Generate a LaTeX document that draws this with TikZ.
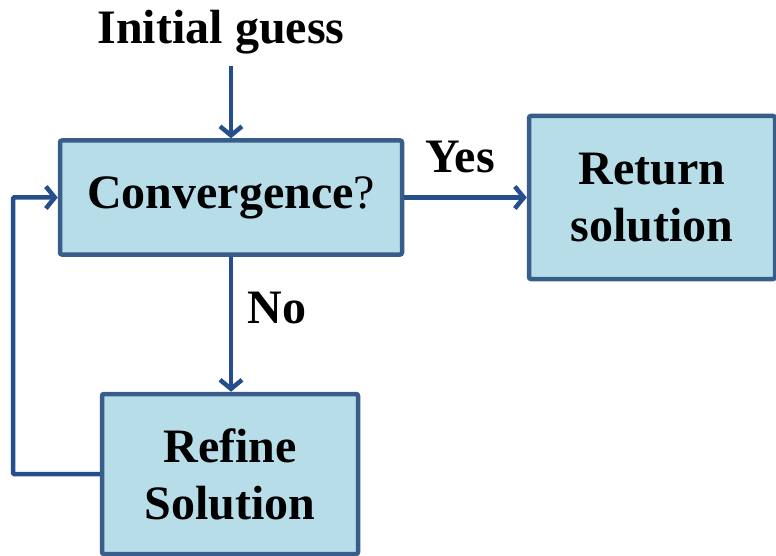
\documentclass[tikz,border=0pt]{standalone}
\usepackage{fontspec}
\setmainfont{Liberation Serif}
\usetikzlibrary{arrows.meta}
\definecolor{boxfill}{RGB}{183,221,232}
\definecolor{boxline}{RGB}{56,93,138}
\definecolor{arrowcol}{RGB}{37,79,140}
\begin{document}
\begin{tikzpicture}[x=1pt,y=-1pt,
  box/.style={draw=boxline,fill=boxfill,line width=4.5pt,rounded corners=2pt,
    align=center,inner sep=0pt,font=\fontsize{48}{57}\selectfont\bfseries},
  lbl/.style={inner sep=0pt,font=\fontsize{48}{57}\selectfont\bfseries},
  conn/.style={draw=arrowcol,line width=4.5pt,
    -{Straight Barb[length=9pt,width=22pt,line width=4.5pt]}}]
\useasboundingbox (0,0) rectangle (776,556);
\node[box,minimum width=342pt,minimum height=114pt] (conv) at (231,197.5)
  {Convergence\mdseries?};
\node[box,minimum width=246pt,minimum height=163pt] (ret) at (652,197.5)
  {Return\\solution};
\node[box,minimum width=256pt,minimum height=160pt] (ref) at (230,474)
  {Refine\\Solution};
\node[lbl] (init) at (221,32) {Initial guess};
\coordinate (start) at (231,66);
\coordinate (loop) at (13,474);
\node[lbl] (yes) at (460,157) {Yes};
\node[lbl] (no) at (277,308) {No};
\draw[conn] (start) -- (conv.north);
\draw[conn] (conv.east) -- (ret.west);
\draw[conn] (conv.south) -- (conv.south |- ref.north);
\draw[conn,rounded corners=1pt] (ref.west) -- (loop) |- (conv.west);
\end{tikzpicture}
\end{document}
